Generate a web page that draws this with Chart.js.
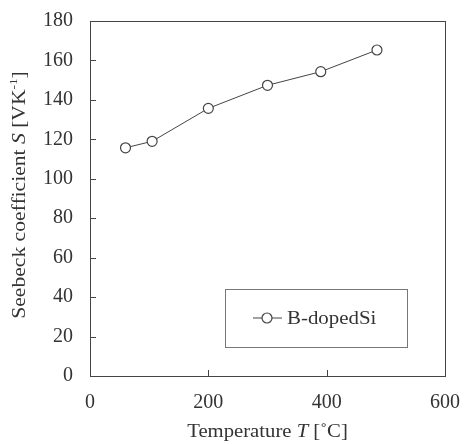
<!DOCTYPE html>
<html>
<head>
<meta charset="utf-8">
<script src="https://cdn.jsdelivr.net/npm/chart.js@4/dist/chart.umd.min.js"></script>
<style>
  html, body { margin: 0; padding: 0; background: #fff; }
  #wrap { width: 464px; height: 444px; }
</style>
</head>
<body>
<div id="wrap"><canvas id="seebeckChart" width="464" height="444"></canvas></div>
<script>
// Dữ liệu
const temperatures = [60, 105, 200, 300, 390, 485];
const seebeckValues = [115.7, 119, 135.7, 147.4, 154.3, 165.3];
const seriesLabel = "B-dopedSi";
const xTicks = [0, 200, 400, 600];
const yTicks = [0, 20, 40, 60, 80, 100, 120, 140, 160, 180];

const textColor = "#333";
const lineColor = "#444";
const serif = "'Liberation Serif', 'DejaVu Serif', serif";

// Khung, vạch chia hướng vào trong, tiêu đề trục và chú thích
const framePlugin = {
    id: "frame",
    afterDraw(chart) {
        const ctx = chart.ctx;
        const area = chart.chartArea;
        const xs = chart.scales.x;
        const ys = chart.scales.y;
        ctx.save();
        ctx.strokeStyle = lineColor;
        ctx.lineWidth = 1;
        ctx.strokeRect(area.left + 0.5, area.top + 0.5, area.right - area.left, area.bottom - area.top);

        ctx.beginPath();
        ys.ticks.forEach((t) => {
            const y = Math.round(ys.getPixelForValue(t.value)) + 0.5;
            ctx.moveTo(area.left, y);
            ctx.lineTo(area.left + 6, y);
        });
        xs.ticks.forEach((t) => {
            const x = Math.round(xs.getPixelForValue(t.value)) + 0.5;
            ctx.moveTo(x, area.bottom);
            ctx.lineTo(x, area.bottom - 6);
        });
        ctx.stroke();

        // Tiêu đề trục x
        ctx.fillStyle = textColor;
        ctx.textBaseline = "middle";
        const cx = (area.left + area.right) / 2;
        const parts = [
            { t: "Temperature ", f: "18px " + serif },
            { t: "T", f: "italic 18px " + serif },
            { t: " [˚C]", f: "18px " + serif },
        ];
        let total = 0;
        parts.forEach((p) => { ctx.font = p.f; total += ctx.measureText(p.t).width; });
        ctx.save();
        ctx.translate(cx, 432);
        ctx.scale(1.15, 1);
        let px = -total / 2;
        ctx.textAlign = "left";
        parts.forEach((p) => { ctx.font = p.f; ctx.fillText(p.t, px, 0); px += ctx.measureText(p.t).width; });
        ctx.restore();

        // Tiêu đề trục y
        const yparts = [
            { t: "Seebeck coefficient ", f: "18px " + serif, dy: 0 },
            { t: "S", f: "italic 18px " + serif, dy: 0 },
            { t: " [VK", f: "18px " + serif, dy: 0 },
            { t: "-1", f: "11px " + serif, dy: -6 },
            { t: "]", f: "18px " + serif, dy: 0 },
        ];
        total = 0;
        yparts.forEach((p) => { ctx.font = p.f; total += ctx.measureText(p.t).width; });
        ctx.save();
        ctx.translate(20, 195);
        ctx.rotate(-Math.PI / 2);
        ctx.scale(1.2, 1);
        px = -total / 2;
        yparts.forEach((p) => { ctx.font = p.f; ctx.fillText(p.t, px, p.dy); px += ctx.measureText(p.t).width; });
        ctx.restore();

        // Chú thích
        ctx.strokeStyle = "#777";
        ctx.strokeRect(225.5, 289.5, 182, 58);
        const ly = 318;
        ctx.strokeStyle = lineColor;
        ctx.beginPath();
        ctx.moveTo(253, ly);
        ctx.lineTo(282, ly);
        ctx.stroke();
        ctx.beginPath();
        ctx.arc(267, ly, 5, 0, Math.PI * 2);
        ctx.fillStyle = "#fff";
        ctx.fill();
        ctx.lineWidth = 1.2;
        ctx.stroke();
        ctx.fillStyle = textColor;
        ctx.font = "19px " + serif;
        ctx.save();
        ctx.translate(287, ly + 1);
        ctx.scale(1.1, 1);
        ctx.fillText(seriesLabel, 0, 0);
        ctx.restore();
        ctx.restore();
    },
};

const ctx = document.getElementById("seebeckChart").getContext("2d");
new Chart(ctx, {
    type: "line",
    data: {
        datasets: [
            {
                label: seriesLabel,
                data: temperatures.map((t, i) => ({ x: t, y: seebeckValues[i] })),
                borderColor: lineColor,
                borderWidth: 1,
                pointRadius: 5,
                pointBorderWidth: 1.2,
                pointBackgroundColor: "#fff",
                pointBorderColor: lineColor,
                tension: 0,
            },
        ],
    },
    options: {
        responsive: false,
        animation: false,
        layout: { padding: { top: 21, right: 19, left: 0, bottom: 0 } },
        plugins: { legend: { display: false }, tooltip: { enabled: false } },
        scales: {
            x: {
                type: "linear",
                min: 0,
                max: 600,
                afterBuildTicks: (s) => { s.ticks = xTicks.map((v) => ({ value: v })); },
                afterFit: (s) => { s.height = 68; s.paddingLeft = 0; s.paddingRight = 0; },
                grid: { display: false, drawTicks: false },
                border: { display: false },
                ticks: { color: textColor, font: { family: serif, size: 20 }, padding: 15, maxRotation: 0 },
            },
            y: {
                min: 0,
                max: 180,
                afterBuildTicks: (s) => { s.ticks = yTicks.map((v) => ({ value: v })); },
                afterFit: (s) => { s.width = 90; s.paddingTop = 0; s.paddingBottom = 0; },
                grid: { display: false, drawTicks: false },
                border: { display: false },
                ticks: { color: textColor, font: { family: serif, size: 20 }, padding: 17 },
            },
        },
    },
    plugins: [framePlugin],
});
</script>
</body>
</html>
